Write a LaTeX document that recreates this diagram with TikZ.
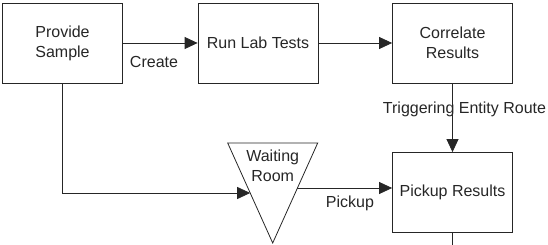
\documentclass[tikz,border=0pt]{standalone}
\usepackage{fontspec}
\setmainfont{Liberation Sans}
\usetikzlibrary{arrows.meta,calc}
\begin{document}
\begin{tikzpicture}[x=1pt,y=-1pt,
  line width=0.8pt,
  every node/.style={font=\fontsize{16}{20}\selectfont,text=black!85},
  stepbox/.style={draw=black!85,minimum width=120pt,minimum height=80pt,inner sep=0pt,align=center},
  link/.style={draw=black!85,-{Triangle[length=13pt,width=12pt]}}]%
\useasboundingbox (0,0) rectangle (548,245);
% boxes
\node[stepbox] (prov) at (62.5,43) {Provide\\Sample};
\node[stepbox] (run) at (258,43) {Run Lab Tests};
\node[stepbox] (corr) at (452.5,43) {Correlate\\Results};
\node[stepbox] (pick) at (452.5,192.5) {Pickup Results};
% waiting room
\coordinate (wtl) at (227.7,143);
\coordinate (wtr) at (317.7,143);
\coordinate (wap) at (272.7,243);
\draw[draw=black!85] (wtl) -- (wtr) -- (wap) -- cycle;
\node[align=center] (wait) at (272.7,166) {Waiting\\Room};
\coordinate (win) at ($(wtl)!0.5!(wap)$);
\coordinate (wout) at ($(wtr)!0.45!(wap)$);
\coordinate (out) at (452.5,245);
% connectors
\draw[link] (prov) -- (run);
\draw[link] (run) -- (corr);
\draw[link] (corr) -- (pick);
\draw[link] (prov.south) |- (win);
\draw[link] (wout) -- (wout -| pick.west);
\draw[draw=black!85] (pick.south) -- (out);
% labels
\node (lcreate) at (154,62) {Create};
\node (lpickup) at (350,203) {Pickup};
\node (ltrig) at (464.5,109) {Triggering Entity Route};
\end{tikzpicture}
\end{document}
